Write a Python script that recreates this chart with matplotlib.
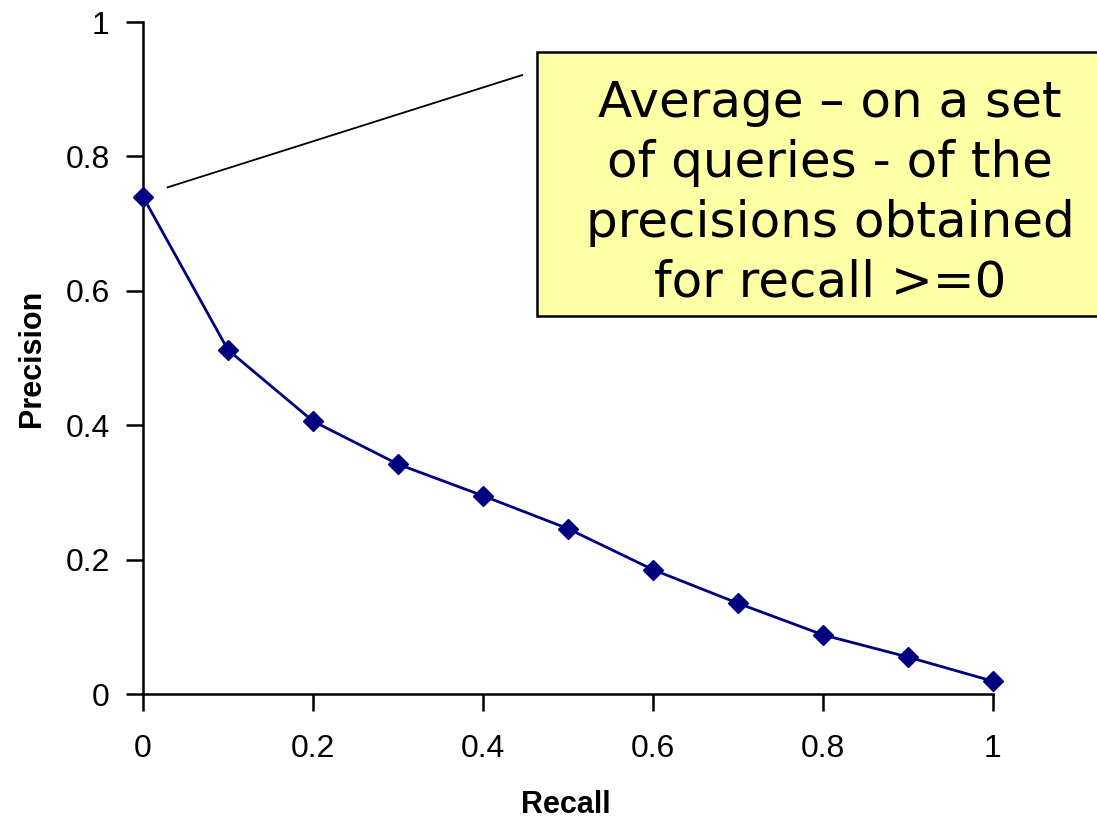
import matplotlib.pyplot as plt
from matplotlib.patches import Rectangle

recall = [0, 0.1, 0.2, 0.3, 0.4, 0.5, 0.6, 0.7, 0.8, 0.9, 1.0]
precision = [0.740, 0.512, 0.406, 0.342, 0.295, 0.246, 0.185, 0.135, 0.088, 0.055, 0.019]
ticks = [0, 0.2, 0.4, 0.6, 0.8, 1]
tick_labels = ['0', '0.2', '0.4', '0.6', '0.8', '1']

note = 'Average \u2013 on a set\nof queries - of the\nprecisions obtained\nfor recall >=0'

W, H = 1097, 818
fig = plt.figure(figsize=(W / 100, H / 100), dpi=100)
ax = fig.add_axes([143 / W, 1 - 694 / H, 850 / W, 672 / H])

ax.plot(recall, precision, color='#000080', lw=2, marker='D', ms=10, clip_on=False, zorder=3)

ax.set_xlim(0, 1)
ax.set_ylim(0, 1)
tick_font = dict(family='Liberation Sans', size=23)
ax.set_xticks(ticks)
ax.set_xticklabels(tick_labels, fontdict=tick_font)
ax.set_yticks(ticks)
ax.set_yticklabels(tick_labels, fontdict=tick_font)
ax.spines['top'].set_visible(False)
ax.spines['right'].set_visible(False)
for s in ['left', 'bottom']:
    ax.spines[s].set_linewidth(1.8)
ax.tick_params(direction='out', length=12, width=1.8)
ax.tick_params(axis='x', pad=17)
ax.tick_params(axis='y', pad=12)

ax.set_xlabel('Recall', fontsize=22, fontweight='bold', fontfamily='Liberation Sans')
ax.set_ylabel('Precision', fontsize=22, fontweight='bold', fontfamily='Liberation Sans')
ax.xaxis.set_label_coords(0.498, -0.143)
ax.yaxis.set_label_coords(-0.113, 0.5)

# pointer line from the first point up to the box
ax.plot([0.029, 0.446], [0.754, 0.921], color='black', lw=1.3, clip_on=False)

# yellow note box, runs off the right edge
fig.patches.append(Rectangle((537 / W, 1 - 316 / H), 600 / W, 264 / H, transform=fig.transFigure,
                             facecolor='#ffffa6', edgecolor='black', lw=1.8))
fig.text(830 / W, 1 - 193 / H, note, ha='center', va='center', fontsize=36, linespacing=1.31)

fig.savefig('out.png', dpi=100)
